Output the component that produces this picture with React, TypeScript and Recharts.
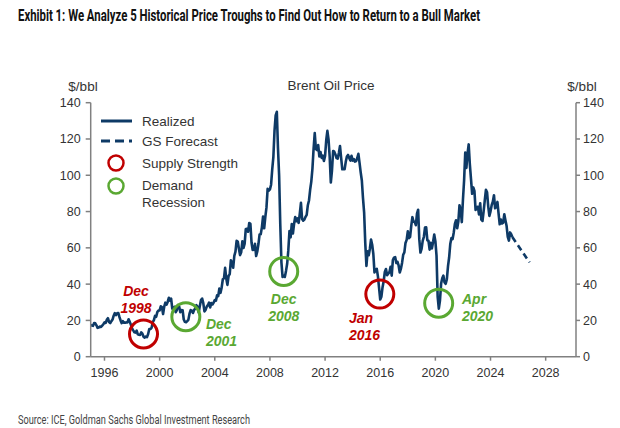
import { ComposedChart, Line, XAxis, YAxis, ReferenceDot } from 'recharts';

// Brent, monthly averages from Jan 1995 (one row per year)
const START_YEAR = 1995;
const BRENT_MONTHLY = [
  17.5, 17.2, 17.0, 18.6, 18.4, 17.3, 15.9, 16.1, 16.6, 16.4, 17.1, 17.9, // 1995
  18.9, 18.6, 20.3, 21.2, 19.1, 18.5, 19.6, 20.5, 22.6, 24.0, 22.9, 23.9, // 1996
  24.1, 21.9, 20.0, 18.5, 19.6, 18.7, 18.8, 18.9, 18.9, 20.6, 19.2, 17.6, // 1997
  15.6, 14.5, 13.5, 13.3, 14.4, 12.3, 12.1, 12.0, 13.4, 12.7, 11.0, 10.5, // 1998
  11.1, 10.8, 12.5, 15.3, 15.3, 15.9, 19.0, 20.2, 22.5, 22.0, 24.6, 25.5, // 1999
  25.5, 27.8, 27.4, 23.5, 27.6, 29.8, 28.7, 30.2, 32.5, 30.9, 32.0, 26.5, // 2000
  25.6, 27.5, 24.5, 25.7, 28.4, 27.7, 24.5, 25.7, 25.6, 20.5, 19.2, 19.0, // 2001
  19.6, 20.3, 23.7, 25.7, 25.4, 24.1, 25.7, 26.6, 28.4, 27.5, 24.3, 28.0, // 2002
  31.2, 32.0, 29.5, 25.0, 25.8, 27.6, 28.4, 29.8, 27.1, 29.6, 28.8, 29.8, // 2003
  31.2, 30.9, 33.8, 33.4, 37.6, 35.2, 38.2, 42.7, 43.2, 49.0, 43.1, 39.6, // 2004
  44.5, 45.5, 53.1, 51.9, 49.0, 55.6, 57.9, 63.9, 63.5, 59.5, 56.0, 57.6, // 2005
  63.6, 59.9, 62.3, 70.4, 70.5, 68.9, 73.7, 73.2, 62.8, 58.8, 58.9, 62.2, // 2006
  55.5, 58.0, 62.1, 67.4, 67.5, 71.3, 77.2, 70.8, 77.1, 82.3, 92.5, 91.5, // 2007
  92.2, 94.8, 103.3, 110.2, 124.6, 133.0, 135.0, 115.0, 100.0, 73.0, 52.0, 44.0, // 2008
  44.5, 44.0, 47.3, 51.2, 58.6, 69.2, 65.8, 73.1, 67.9, 73.1, 77.0, 74.7, // 2009
  76.2, 73.8, 78.8, 84.8, 75.9, 75.0, 75.6, 77.1, 78.2, 83.5, 86.1, 92.0, // 2010
  96.5, 103.7, 114.6, 123.3, 114.5, 113.9, 116.7, 110.4, 112.8, 109.6, 110.8, 107.9, // 2011
  110.7, 119.3, 124.5, 119.8, 110.3, 96.0, 102.6, 113.4, 113.0, 111.5, 109.5, 109.2, // 2012
  112.3, 116.1, 109.5, 103.3, 103.3, 103.3, 107.4, 110.3, 111.2, 109.5, 108.1, 110.7, // 2013
  108.1, 108.9, 107.5, 107.8, 109.5, 111.8, 106.8, 101.6, 97.1, 87.4, 79.4, 62.3, // 2014
  50.0, 58.1, 55.9, 59.5, 64.6, 61.7, 56.6, 46.5, 47.6, 48.4, 44.3, 38.0, // 2015
  31.5, 33.0, 38.2, 41.6, 46.7, 48.3, 44.9, 45.8, 46.6, 49.5, 44.7, 53.3, // 2016
  54.6, 54.9, 51.6, 52.3, 50.3, 46.4, 48.5, 51.7, 56.2, 57.5, 62.7, 64.4, // 2017
  69.1, 65.3, 66.0, 72.1, 76.9, 74.4, 74.3, 72.5, 78.9, 81.0, 64.8, 57.4, // 2018
  59.4, 64.0, 66.1, 71.2, 71.3, 64.2, 63.9, 59.0, 62.8, 59.7, 63.2, 67.3, // 2019
  63.7, 55.7, 33.0, 26.5, 31.0, 40.3, 43.2, 44.7, 40.9, 40.2, 42.7, 49.9, // 2020
  54.8, 62.3, 65.4, 64.8, 68.5, 73.2, 75.2, 70.8, 74.5, 83.5, 81.1, 74.2, // 2021
  86.5, 97.1, 112.5, 104.0, 112.0, 117.0, 106.0, 98.0, 89.8, 93.3, 91.4, 80.9, // 2022
  82.5, 82.6, 78.4, 84.6, 75.5, 74.8, 80.1, 86.2, 92.0, 90.6, 82.9, 77.6, // 2023
  80.1, 83.5, 85.4, 89.0, 81.8, 82.6, 85.3, 79.0, 73.0, 75.6, 73.4, 73.9, // 2024
  78.5, 75.1, 72.0, 66.0, 64.0, 68.5, 67.5, 66.0, // 2025
];

const FORECAST_YEARS = [2025.58, 2026.83];
const FORECAST_PRICES = [66, 52];

const YEAR_TICKS = [1996, 2000, 2004, 2008, 2012, 2016, 2020, 2024, 2028];
const PRICE_TICKS = [0, 20, 40, 60, 80, 100, 120, 140];

// troughs: circle centre, kind and caption
const TROUGH_YEARS = [1998.83, 2001.9, 2009.0, 2015.97, 2020.24];
const TROUGH_PRICES = [12.5, 22, 47, 34.5, 29.5];
const TROUGH_KINDS = ['supply', 'demand', 'demand', 'supply', 'demand'];
const TROUGH_CAPTIONS = [['Dec', '1998'], ['Dec', '2001'], ['Dec', '2008'], ['Jan', '2016'], ['Apr', '2020']];
const CAPTION_YEARS = [1998.29, 2003.36, 2009.0, 2013.73, 2021.93];
const CAPTION_PRICES = [36.4, 18.0, 31.8, 21.2, 31.8];
const CAPTION_ANCHORS = ['middle', 'start', 'middle', 'start', 'start'];

const NAVY = '#0e3a66';
const RED = '#c00000';
const GREEN = '#5aa832';
const AXIS = '#808080';
const FONT = '"Liberation Sans", Arial, sans-serif';

const realized = BRENT_MONTHLY.map((v, i) => ({ t: START_YEAR + i / 12, price: v }));
const forecast = FORECAST_YEARS.map((t, i) => ({ t, price: FORECAST_PRICES[i] }));

const kindColor = (k: string) => (k === 'supply' ? RED : GREEN);

function Caption({ cx, cy, lines, color, anchor }: any) {
  return (
    <text
      x={cx}
      y={cy}
      textAnchor={anchor}
      fill={color}
      fontFamily={FONT}
      fontSize={14}
      fontWeight="bold"
      fontStyle="italic"
    >
      <tspan x={cx} dy="0.35em">{lines[0]}</tspan>
      <tspan x={cx} dy={17}>{lines[1]}</tspan>
    </text>
  );
}

function LegendBox() {
  const txt = { fontFamily: FONT, fontSize: 13.5, fill: '#333' };
  return (
    <svg width={190} height={115} style={{ position: 'absolute', left: 95, top: 108 }}>
      <line x1={6} x2={37} y1={13} y2={13} stroke={NAVY} strokeWidth={3} />
      <text x={47} y={13} dy="0.35em" {...txt}>Realized</text>
      <line x1={6} x2={37} y1={33} y2={33} stroke={NAVY} strokeWidth={3} strokeDasharray="9 5" />
      <text x={47} y={33} dy="0.35em" {...txt}>GS Forecast</text>
      <circle cx={21} cy={55} r={7.5} fill="none" stroke={RED} strokeWidth={2.5} />
      <text x={47} y={55} dy="0.35em" {...txt}>Supply Strength</text>
      <circle cx={21} cy={78} r={7.5} fill="none" stroke={GREEN} strokeWidth={2.5} />
      <text x={47} y={77} dy="0.35em" {...txt}>Demand</text>
      <text x={47} y={94} dy="0.35em" {...txt}>Recession</text>
    </svg>
  );
}

export default function App() {
  const tickStyle = { fill: '#333', fontSize: 12.5, fontFamily: FONT };
  return (
    <div style={{ position: 'absolute', left: 0, top: 0, width: 620, height: 428, background: '#fff' }}>
      <svg width={620} height={428} style={{ position: 'absolute', left: 0, top: 0 }}>
        <text
          x={18}
          y={17.5}
          transform="scale(1, 1.2)"
          fontFamily="Roboto, sans-serif"
          fontWeight="bold"
          fontSize={13}
          fill="#111"
          textLength={462}
          lengthAdjust="spacingAndGlyphs"
        >
          Exhibit 1: We Analyze 5 Historical Price Troughs to Find Out How to Return to a Bull Market
        </text>
        <text
          x={18}
          y={424}
          fontFamily="Roboto, sans-serif"
          fontSize={12}
          fill="#444"
          textLength={232}
          lengthAdjust="spacingAndGlyphs"
        >
          Source: ICE, Goldman Sachs Global Investment Research
        </text>
        <text x={331} y={85} dy="0.35em" textAnchor="middle" fontFamily={FONT} fontSize={13.5} fill="#333">
          Brent Oil Price
        </text>
        <text x={83} y={86} dy="0.35em" textAnchor="middle" fontFamily={FONT} fontSize={13.5} fill="#333">
          $/bbl
        </text>
        <text x={582} y={86} dy="0.35em" textAnchor="middle" fontFamily={FONT} fontSize={13.5} fill="#333">
          $/bbl
        </text>
      </svg>
      <div style={{ position: 'absolute', left: 0, top: 0 }}>
        <ComposedChart
          width={620}
          height={428}
          margin={{ top: 102.7, right: 4, bottom: 41.3, left: 40 }}
        >
          <XAxis
            dataKey="t"
            type="number"
            domain={[1995, 2030.2]}
            ticks={YEAR_TICKS}
            allowDataOverflow
            height={30}
            tick={tickStyle}
            tickSize={4}
            tickMargin={7}
            axisLine={{ stroke: AXIS, strokeWidth: 1.5 }}
            tickLine={{ stroke: AXIS, strokeWidth: 1.5 }}
          />
          <YAxis
            yAxisId="left"
            orientation="left"
            domain={[0, 140]}
            ticks={PRICE_TICKS}
            width={50.7}
            tick={tickStyle}
            tickSize={5}
            tickMargin={5}
            axisLine={{ stroke: AXIS, strokeWidth: 1.5 }}
            tickLine={{ stroke: AXIS, strokeWidth: 1.5 }}
          />
          <YAxis
            yAxisId="right"
            orientation="right"
            domain={[0, 140]}
            ticks={PRICE_TICKS}
            width={40}
            tick={tickStyle}
            tickSize={4}
            tickMargin={3}
            axisLine={{ stroke: AXIS, strokeWidth: 1.5 }}
            tickLine={{ stroke: AXIS, strokeWidth: 1.5 }}
          />
          <Line
            yAxisId="left"
            data={realized}
            dataKey="price"
            type="linear"
            stroke={NAVY}
            strokeWidth={2.6}
            strokeLinejoin="round"
            dot={false}
            isAnimationActive={false}
          />
          {/* both axes share 0-140, so the forecast can sit on the right one */}
          <Line
            yAxisId="right"
            data={forecast}
            dataKey="price"
            type="linear"
            stroke={NAVY}
            strokeWidth={2.6}
            strokeDasharray="6 4"
            dot={false}
            isAnimationActive={false}
          />
          {TROUGH_YEARS.map((x, i) => (
            <ReferenceDot
              key={`c${i}`}
              yAxisId="left"
              x={x}
              y={TROUGH_PRICES[i]}
              r={14}
              fill="none"
              stroke={kindColor(TROUGH_KINDS[i])}
              strokeWidth={3}
            />
          ))}
          {CAPTION_YEARS.map((x, i) => (
            <ReferenceDot
              key={`l${i}`}
              yAxisId="left"
              x={x}
              y={CAPTION_PRICES[i]}
              r={0}
              shape={(p: any) => (
                <Caption
                  cx={p.cx}
                  cy={p.cy}
                  lines={TROUGH_CAPTIONS[i]}
                  color={kindColor(TROUGH_KINDS[i])}
                  anchor={CAPTION_ANCHORS[i]}
                />
              )}
            />
          ))}
        </ComposedChart>
      </div>
      <LegendBox />
    </div>
  );
}
